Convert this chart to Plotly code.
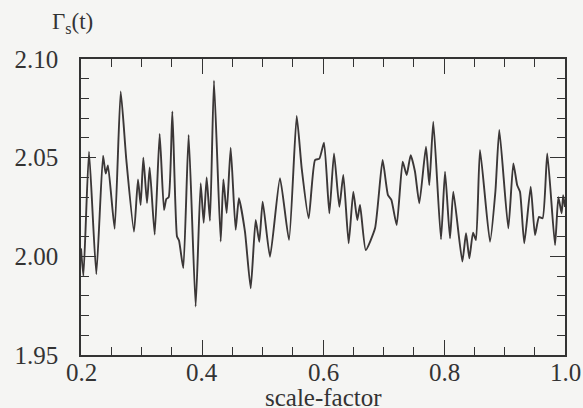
import plotly.graph_objects as go

scale_factor = [
    0.200, 0.204, 0.2132, 0.2253, 0.2364, 0.2408, 0.2446, 0.2556, 0.2656, 0.2749,
    0.2876, 0.2942, 0.2986, 0.3030, 0.3091, 0.3135, 0.3218, 0.3300, 0.3372, 0.3410,
    0.3450, 0.3510, 0.3587, 0.3620, 0.3691, 0.3779, 0.3895, 0.3978, 0.4028, 0.4077,
    0.4132, 0.4198, 0.4309, 0.4353, 0.4408, 0.4474, 0.4556, 0.4610, 0.4710, 0.4805,
    0.4887, 0.4947, 0.5003, 0.5124, 0.5289, 0.5438, 0.5565, 0.5648, 0.5763, 0.5868,
    0.5940, 0.6017, 0.6105, 0.6182, 0.6270, 0.6336, 0.6424, 0.6501, 0.6567, 0.6612,
    0.6706, 0.6860, 0.6985, 0.7074, 0.7130, 0.7218, 0.7317, 0.7383, 0.7449, 0.7520,
    0.7592, 0.7702, 0.7757, 0.7823, 0.7950, 0.8017, 0.8099, 0.8154, 0.8303, 0.8364,
    0.8419, 0.8480, 0.8529, 0.8595, 0.8760, 0.8850, 0.8914, 0.9063, 0.9146, 0.9210,
    0.9256, 0.9327, 0.9433, 0.9504, 0.9570, 0.9630, 0.9707, 0.9835, 0.9890, 0.9945,
    0.9970, 1.000,
]
gamma_s = [
    2.004, 1.990, 2.053, 1.991, 2.051, 2.042, 2.046, 2.014, 2.0835, 2.049,
    2.0125, 2.039, 2.026, 2.050, 2.027, 2.045, 2.011, 2.062, 2.0235, 2.029,
    2.030, 2.0734, 2.010, 2.008, 1.994, 2.0615, 1.9746, 2.037, 2.017, 2.040,
    2.018, 2.089, 2.0075, 2.039, 2.022, 2.055, 2.0134, 2.0294, 2.0125, 1.9838,
    2.0184, 2.0074, 2.0277, 1.9998, 2.0396, 2.0083, 2.0711, 2.0446, 2.0193, 2.0488,
    2.0495, 2.0576, 2.0218, 2.0522, 2.0251, 2.0412, 2.0066, 2.0327, 2.0184, 2.026,
    2.0032, 2.0142, 2.0488, 2.031, 2.0286, 2.0159, 2.048, 2.0412, 2.0513, 2.043,
    2.0269, 2.0555, 2.0361, 2.0682, 2.0086, 2.0429, 2.0091, 2.0327, 1.9973, 2.0117,
    1.999, 2.012, 2.0083, 2.0539, 2.0074, 2.033, 2.064, 2.0142, 2.0471, 2.036,
    2.0327, 2.0066, 2.0353, 2.0108, 2.020, 2.0193, 2.0522, 2.0057, 2.030, 2.0218,
    2.031, 2.025,
]

x_ticks = [0.2, 0.4, 0.6, 0.8, 1.0]
x_tick_labels = ["0.2", "0.4", "0.6", "0.8", "1.0"]
y_ticks = [1.95, 2.00, 2.05, 2.10]
y_tick_labels = ["1.95", "2.00", "2.05", "2.10"]

FONT = "Liberation Serif, Times New Roman, serif"
INK = "#333333"
BG = "#f5f5f3"

fig = go.Figure()
fig.add_trace(go.Scatter(
    x=scale_factor, y=gamma_s, mode="lines",
    line=dict(color="#3b3737", width=1.9, shape="spline", smoothing=0.5),
    showlegend=False, hoverinfo="skip",
))

axis_common = dict(
    showgrid=False, zeroline=False, automargin=False,
    showline=True, linecolor=INK, linewidth=1.6,
    mirror="ticks", ticks="inside", tickcolor=INK, tickwidth=1.4,
    tickfont=dict(family=FONT, size=25, color=INK),
)

fig.update_xaxes(
    range=[0.2, 1.0], tickvals=x_ticks, showticklabels=False,
    ticklen=15,
    minor=dict(ticks="inside", ticklen=8, dtick=0.05, tick0=0.2,
               tickcolor=INK, tickwidth=1.4, showgrid=False),
    **axis_common,
)
fig.update_yaxes(
    range=[1.95, 2.10], tickvals=y_ticks, ticktext=y_tick_labels,
    ticklen=15, ticklabelstandoff=16,
    minor=dict(ticks="inside", ticklen=8, dtick=0.01, tick0=1.95,
               tickcolor=INK, tickwidth=1.4, showgrid=False),
    **axis_common,
)

annotations = [
    dict(text=lab, xref="x", yref="paper", x=val, y=-0.06,
         xanchor="center", yanchor="middle", showarrow=False,
         font=dict(family=FONT, size=25, color=INK))
    for val, lab in zip(x_ticks, x_tick_labels)
]
annotations += [
    dict(text="scale-factor", xref="paper", yref="paper",
         x=0.5, y=-0.142, xanchor="center", yanchor="middle",
         showarrow=False, font=dict(family=FONT, size=25, color=INK)),
    dict(text="Γ<sub>s</sub>(t)", xref="paper", yref="paper",
         x=-0.064, y=1.12, xanchor="left", yanchor="middle",
         showarrow=False, font=dict(family=FONT, size=23, color=INK)),
]

fig.update_layout(
    width=583, height=408,
    margin=dict(l=81, r=18, t=59, b=53),
    paper_bgcolor=BG, plot_bgcolor=BG,
    font=dict(family=FONT, color=INK),
    annotations=annotations,
)

fig.write_html("out.html")
